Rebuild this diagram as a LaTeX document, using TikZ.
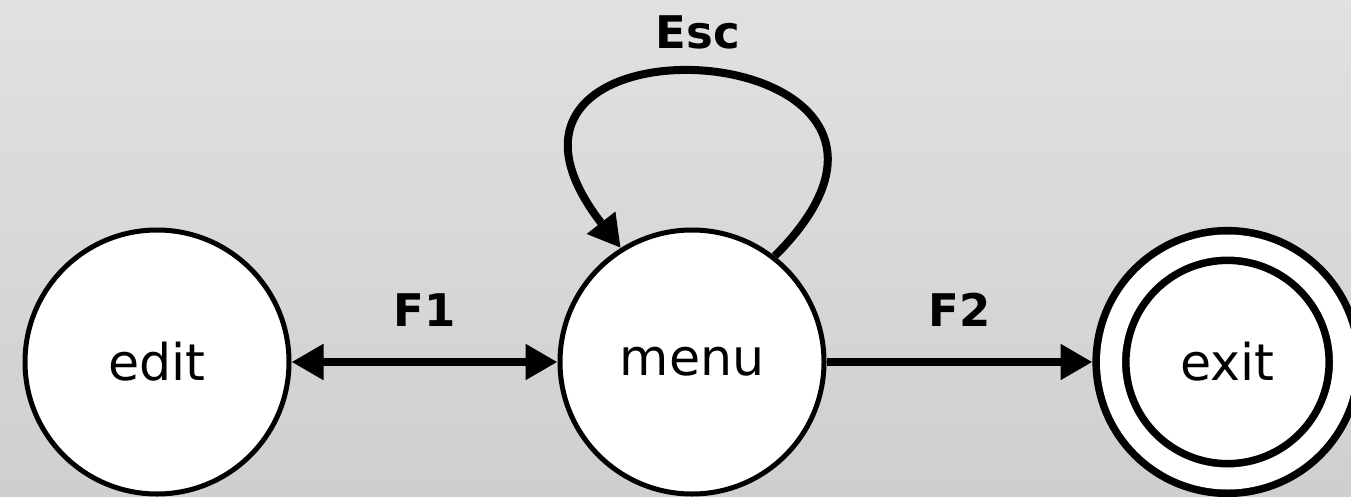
\documentclass[tikz,border=0pt]{standalone}
\usepackage{fontspec}
\setmainfont{DejaVu Sans}
\usepackage{tikz}
\usetikzlibrary{arrows.meta,shapes,positioning}
\definecolor{bgtop}{RGB}{225,225,225}
\definecolor{bgbot}{RGB}{207,207,207}

\begin{document}
\begin{tikzpicture}%[->,>=stealth', node distance=2.8cm, semithick]
\tikzstyle{state}=[draw, fill=white, shape=circle, line width=0.125cm, minimum size=6.6cm, inner sep=0pt, font=\fontsize{36}{42}\selectfont]
\tikzstyle{final}=[state, line width=0.19cm, double=white, double distance=0.55cm, minimum size=5.825cm, outer sep=0.4625cm]
\tikzstyle{trans}=[line width=0.2cm, >={Triangle[length=0.8cm, width=0.85cm]}]
\tikzstyle{lbl}=[inner sep=0pt, font=\fontsize{32}{38}\selectfont\bfseries]
\useasboundingbox (0,0) rectangle (33.775,12.4);
\fill[top color=bgtop, bottom color=bgbot] (0,0) rectangle (33.775,12.4);

\node[state] (0) at (3.925,3.35) {edit};
\node[state] (1) [right=6.65cm of 0] {menu};
\node[final] (2) [right=6.65cm of 1] {exit};

\draw[trans, <->] (0.east) to node[lbl, above=0.8cm] {F1} (1.west);
\draw[trans, ->] (1.east) to node[lbl, above=0.8cm] {F2} (2.west);
\draw[trans, ->] (1.52) to [out=45, in=128, looseness=5.27] node[lbl, pos=0.52, above=0.5cm] {Esc} (1.122);

\end{tikzpicture}
\end{document}
